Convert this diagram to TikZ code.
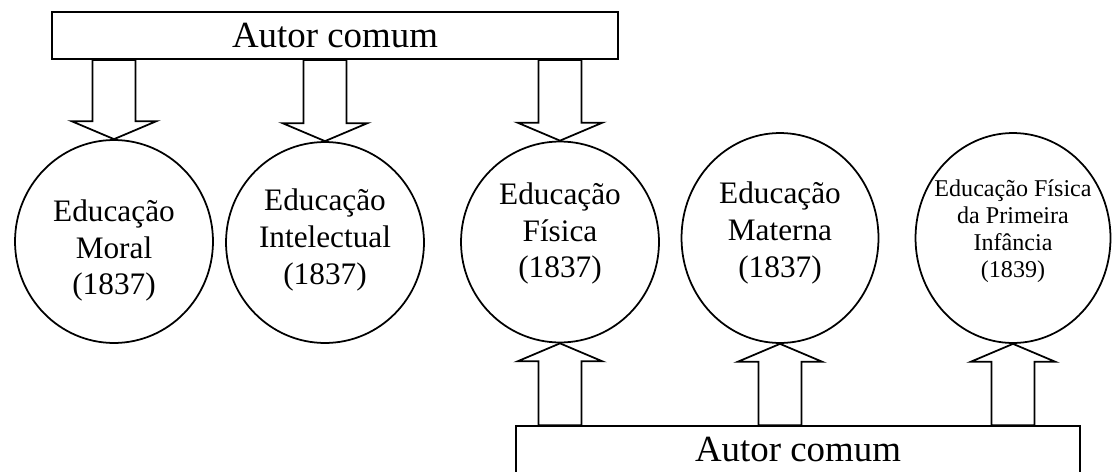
\documentclass[tikz,border=0pt]{standalone}
\usepackage{fontspec}
\setmainfont{Liberation Serif}
\usetikzlibrary{shapes.geometric,calc}

\tikzset{
  caixa/.style={draw, rectangle, line width=1pt, minimum height=0.94cm, inner sep=0pt, font=\fontsize{21}{25}\selectfont},
  bola/.style={draw, ellipse, line width=1pt, inner sep=0pt},
  rotulo/.style={align=center, inner sep=0pt, font=\fontsize{17.8}{20.8}\selectfont},
  rotulop/.style={align=center, inner sep=0pt, font=\fontsize{13.7}{15.4}\selectfont},
  seta/.style={draw, line width=1pt, fill=white, line join=miter}
}

% seta larga: #1 borda da caixa, #2 ponta no circulo, #3 comprimento da ponta
\newcommand\setabloco[3]{%
  \draw[seta] let \p1=(#2), \p2=(#1), \p3=(42.5,#3), \p4=(21.5,0) in
    (\p1) -- (\x1-\x3,\y1+\y3) -- (\x1-\x4,\y1+\y3) -- (\x1-\x4,\y2)
    -- (\x1+\x4,\y2) -- (\x1+\x4,\y1+\y3) -- (\x1+\x3,\y1+\y3) -- cycle;}

\begin{document}
\begin{tikzpicture}[x=0.02cm, y=0.02cm]
	\useasboundingbox (0,0) rectangle (1112,471);
	% caixas
	\node[caixa, minimum width=11.32cm] (A1) at (335,435.5) {Autor comum};
	\node[caixa, minimum width=11.28cm] (A2) at (798,21.5) {Autor comum};
	
	% circulos
	\node[bola, minimum width=3.96cm, minimum height=4.06cm] (EM) at (114,229.5) {};
	\node[bola, minimum width=3.96cm, minimum height=4.02cm] (EI) at (325,228.5) {};
	\node[bola, minimum width=3.96cm, minimum height=4.02cm] (EF) at (560,229) {};
	\node[bola, minimum width=3.94cm, minimum height=4.2cm] (EMa) at (780,233) {};
	\node[bola, minimum width=3.9cm, minimum height=4.2cm] (EFI) at (1013,233) {};
	
	% textos
	\node[rotulo] (tEM) at ([yshift=-0.18cm]EM) {Educação\\Moral\\(1837)};
	\node[rotulo] (tEI) at ([yshift=0.05cm]EI) {Educação\\Intelectual\\(1837)};
	\node[rotulo] (tEF) at ([yshift=0.17cm]EF) {Educação\\Física\\(1837)};
	\node[rotulo] (tEMa) at ([yshift=0.1cm]EMa) {Educação\\Materna\\(1837)};
	\node[rotulop] (tEFI) at ([yshift=0.13cm]EFI) {Educação Física\\da Primeira\\Infância\\(1839)};
	
	% setas
	\setabloco{A1.south}{EM.north}{18}
	\setabloco{A1.south}{EI.north}{18}
	\setabloco{A1.south}{EF.north}{18}
	\setabloco{A2.north}{EF.south}{-18}
	\setabloco{A2.north}{EMa.south}{-18}
	\setabloco{A2.north}{EFI.south}{-18}
\end{tikzpicture}
\end{document}
